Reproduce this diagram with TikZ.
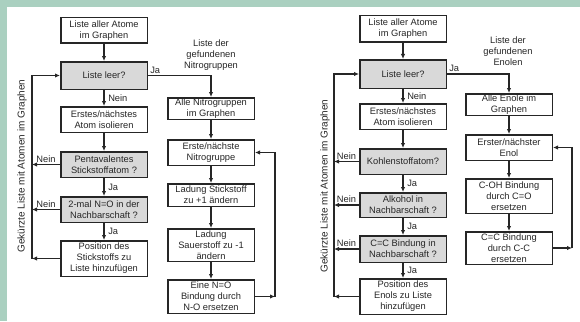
\documentclass[tikz,border=0pt]{standalone}
\usepackage{fontspec}
\setmainfont{Liberation Sans}
\usetikzlibrary{arrows.meta,positioning}
\definecolor{bggreen}{RGB}{170,208,192}
\definecolor{boxgray}{RGB}{217,217,217}
\begin{document}
\begin{tikzpicture}[
    x=1pt, y=-1pt,
    every node/.style={font=\fontsize{9.3}{11}\selectfont, text=black!85},
    procbox/.style={
      rectangle, draw=black!85, line width=1.5pt, fill=white,
      minimum width=86.5pt, minimum height=25.5pt, align=center, inner sep=0pt
    },
    decbox/.style={procbox, fill=boxgray},
    arr/.style={-{Latex[length=5pt,width=4.5pt]}, line width=1.5pt, black!85},
    lbl/.style={inner sep=1.5pt},
    sidelbl/.style={rotate=90, font=\fontsize{10}{12}\selectfont}
  ]
    % Background
    \fill[bggreen] (0,0) rectangle (580,321);
    \fill[white] (7,7) rectangle (580,321);
    \useasboundingbox (0,0) rectangle (580,321);

    % ---------- Nitrogruppen ----------
    \node[procbox] (atomsA) at (104,30.5) {Liste aller Atome\\im Graphen};
    \node[decbox, minimum height=27.5pt, below=17pt of atomsA] (leerA) {Liste leer?};
    \node[procbox, below=16pt of leerA] (isoA) {Erstes/nächstes\\Atom isolieren};
    \node[decbox, below=18pt of isoA] (pentaA) {Pentavalentes\\Stickstoffatom ?};
    \node[decbox, below=18pt of pentaA] (twoA) {2-mal N=O in der\\Nachbarschaft ?};
    \node[procbox, minimum height=35.5pt, below=17pt of twoA] (posA) {Position des\\Stickstoffs zu\\Liste hinzufügen};

    \node[align=center] (listA) at (211,55) {Liste der\\gefundenen\\Nitrogruppen};
    \node[procbox, minimum height=21.5pt] (alleA) at (211,108.5) {Alle Nitrogruppen\\im Graphen};
    \node[procbox, below=19pt of alleA] (ersteA) {Erste/nächste\\Nitrogruppe};
    \node[procbox, minimum height=22.5pt, below=17pt of ersteA] (lstA) {Ladung Stickstoff\\zu +1 ändern};
    \node[procbox, minimum height=32.5pt, below=21pt of lstA] (losA) {Ladung\\Sauerstoff zu -1\\ändern};
    \node[procbox, minimum height=33.5pt, below=17pt of losA] (enoA) {Eine N=O\\Bindung durch\\N-O ersetzen};

    \node[sidelbl] (sideA) at (22,166) {Gekürzte Liste mit Atomen im Graphen};
    \coordinate (loopA) at (32,0);
    \coordinate (backA) at (275,0);

    \draw[arr] (atomsA) -- (leerA);
    \draw[arr] (leerA) -- node[right, lbl, xshift=2pt]{Nein} (isoA);
    \draw[arr] (isoA) -- (pentaA);
    \draw[arr] (pentaA) -- node[right, lbl, xshift=2pt]{Ja} (twoA);
    \draw[arr] (twoA) -- node[right, lbl, xshift=2pt]{Ja} (posA);
    \draw[arr] (leerA.east) -| node[pos=0, above right, lbl]{Ja} (alleA.north);
    \draw[arr] (alleA) -- (ersteA);
    \draw[arr] (ersteA) -- (lstA);
    \draw[arr] (lstA) -- (losA);
    \draw[arr] (losA) -- (enoA);

    % loop back to list
    \draw[arr] (pentaA.west) -- node[above, lbl]{Nein} (pentaA.west -| loopA);
    \draw[arr] (twoA.west) -- node[above, lbl]{Nein} (twoA.west -| loopA);
    \draw[arr] (posA.west) -- (posA.west -| loopA);
    \draw[arr] (posA.west -| loopA) |- (leerA.west);
    \draw[arr] (enoA.east) -- (enoA.east -| backA);
    \draw[arr] (enoA.east -| backA) |- (ersteA.east);

    % ---------- Enole ----------
    \node[procbox, minimum height=26.5pt] (atomsB) at (403,29) {Liste aller Atome\\im Graphen};
    \node[decbox, minimum height=28.5pt, below=16pt of atomsB] (leerB) {Liste leer?};
    \node[procbox, below=14pt of leerB] (isoB) {Erstes/nächstes\\Atom isolieren};
    \node[decbox, below=18pt of isoB] (kohlB) {Kohlenstoffatom?};
    \node[decbox, minimum height=24.5pt, below=17pt of kohlB] (alkB) {Alkohol in\\Nachbarschaft ?};
    \node[decbox, minimum height=26.5pt, below=17pt of alkB] (ccB) {C=C Bindung in\\Nachbarschaft ?};
    \node[procbox, minimum height=35.5pt, below=15pt of ccB] (posB) {Position des\\Enols zu Liste\\hinzufügen};

    \node[align=center] (listB) at (508,51) {Liste der\\gefundenen\\Enolen};
    \node[procbox, minimum height=21.5pt] (alleB) at (509,104.5) {Alle Enole im\\Graphen};
    \node[procbox, below=18pt of alleB] (erstB) {Erster/nächster\\Enol};
    \node[procbox, minimum height=34.5pt, below=17pt of erstB] (cohB) {C-OH Bindung\\durch C=O\\ersetzen};
    \node[procbox, minimum height=32.5pt, below=17pt of cohB] (cccB) {C=C Bindung\\durch C-C\\ersetzen};

    \node[sidelbl] (sideB) at (325,186) {Gekürzte Liste mit Atomen im Graphen};
    \coordinate (loopB) at (334,0);
    \coordinate (backB) at (572,0);

    \draw[arr] (atomsB) -- (leerB);
    \draw[arr] (leerB) -- node[right, lbl, xshift=2pt]{Nein} (isoB);
    \draw[arr] (isoB) -- (kohlB);
    \draw[arr] (kohlB) -- node[right, lbl, xshift=2pt]{Ja} (alkB);
    \draw[arr] (alkB) -- node[right, lbl, xshift=2pt]{Ja} (ccB);
    \draw[arr] (ccB) -- node[right, lbl, xshift=2pt]{Ja} (posB);
    \draw[arr] (leerB.east) -| node[pos=0, above right, lbl]{Ja} (alleB.north);
    \draw[arr] (alleB) -- (erstB);
    \draw[arr] (erstB) -- (cohB);
    \draw[arr] (cohB) -- (cccB);

    % loop back to list
    \draw[arr] (kohlB.west) -- node[above, lbl]{Nein} (kohlB.west -| loopB);
    \draw[arr] (alkB.west) -- node[above, lbl]{Nein} (alkB.west -| loopB);
    \draw[arr] (ccB.west) -- node[above, lbl]{Nein} (ccB.west -| loopB);
    \draw[arr] (posB.west) -- (posB.west -| loopB);
    \draw[arr] (posB.west -| loopB) |- (leerB.west);
    \draw[arr] (cccB.east) -- (cccB.east -| backB);
    \draw[arr] (cccB.east -| backB) |- (erstB.east);
  \end{tikzpicture}
\end{document}
